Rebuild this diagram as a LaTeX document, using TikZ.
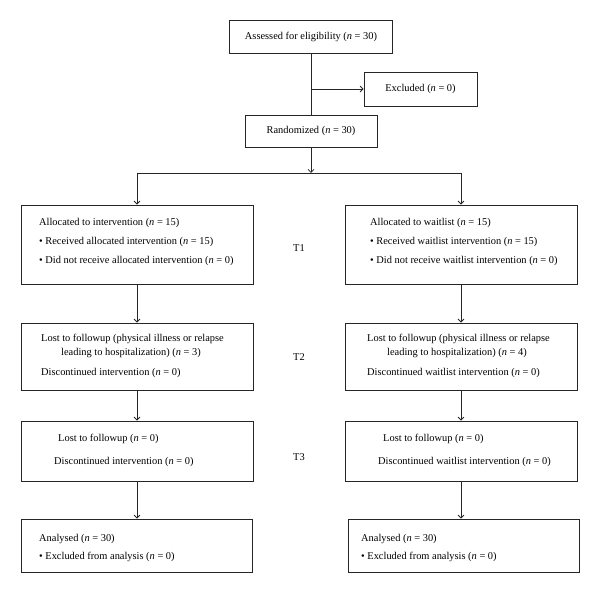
\documentclass[tikz,border=0pt]{standalone}
\usepackage{fontspec}
\setmainfont{Liberation Serif}
\usetikzlibrary{arrows.meta}
\newcommand{\nn}{\textit{n}}
\begin{document}
\begin{tikzpicture}[x=1pt,y=-1pt,
  box/.style={draw=black!85,line width=0.8pt,rectangle,inner sep=0pt},
  txt/.style={inner sep=0pt,anchor=west,font=\fontsize{10.4}{12}\selectfont},
  ctxt/.style={inner sep=0pt,anchor=center,font=\fontsize{10.4}{12}\selectfont},
  conn/.style={draw=black!85,line width=0.8pt},
  arr/.style={conn,-{Straight Barb[length=3pt,width=6pt]}}]
\useasboundingbox (0,0) rectangle (600,593);
% top
\node[box,minimum width=163pt,minimum height=33pt] (assess) at (311,36.5) {};
\node[ctxt] (assesst) at (311,36.5) {Assessed for eligibility (\nn{} = 30)};
\node[box,minimum width=113pt,minimum height=34pt] (excl) at (420.5,89) {};
\node[ctxt] (exclt) at (420.5,89) {Excluded (\nn{} = 0)};
\node[box,minimum width=132pt,minimum height=32pt] (rand) at (311,131) {};
\node[ctxt] (randt) at (311,131) {Randomized (\nn{} = 30)};
\coordinate (br) at (311,89);
\coordinate (split) at (311,173);
\coordinate (lc) at (137,173);
\coordinate (rc) at (461,173);
\draw[conn] (assess.south) -- (rand.north);
\draw[arr] (br) -- (excl.west);
\draw[arr] (rand.south) -- (split);
\draw[conn] (lc) -- (rc);
% row 1
\node[box,minimum width=232pt,minimum height=79pt] (l1) at (137,244.5) {};
\node[box,minimum width=232pt,minimum height=79pt] (r1) at (461,244.5) {};
\draw[arr] (lc) -- (l1.north);
\draw[arr] (rc) -- (r1.north);
\node[txt] (l1a) at (39,223) {Allocated to intervention (\nn{} = 15)};
\node[txt] (l1b) at (39,242) {\textbullet\ Received allocated intervention (\nn{} = 15)};
\node[txt] (l1c) at (39,261) {\textbullet\ Did not receive allocated intervention (\nn{} = 0)};
\node[txt] (r1a) at (370,223) {Allocated to waitlist (\nn{} = 15)};
\node[txt] (r1b) at (370,242) {\textbullet\ Received waitlist intervention (\nn{} = 15)};
\node[txt] (r1c) at (370,261) {\textbullet\ Did not receive waitlist intervention (\nn{} = 0)};
\node[ctxt] (t1) at (299,248) {T1};
% row 2
\node[box,minimum width=232pt,minimum height=67pt] (l2) at (137,356.5) {};
\node[box,minimum width=232pt,minimum height=67pt] (r2) at (461,356.5) {};
\draw[arr] (l1.south) -- (l2.north);
\draw[arr] (r1.south) -- (r2.north);
\node[txt] (l2a) at (41,339) {Lost to followup (physical illness or relapse};
\node[ctxt] (l2b) at (131,353) {leading to hospitalization) (\nn{} = 3)};
\node[txt] (l2c) at (41,373) {Discontinued intervention (\nn{} = 0)};
\node[txt] (r2a) at (367,339) {Lost to followup (physical illness or relapse};
\node[ctxt] (r2b) at (457,353) {leading to hospitalization) (\nn{} = 4)};
\node[txt] (r2c) at (367,373) {Discontinued waitlist intervention (\nn{} = 0)};
\node[ctxt] (t2) at (299,357) {T2};
% row 3
\node[box,minimum width=232pt,minimum height=60pt] (l3) at (137,451) {};
\node[box,minimum width=232pt,minimum height=60pt] (r3) at (461,451) {};
\draw[arr] (l2.south) -- (l3.north);
\draw[arr] (r2.south) -- (r3.north);
\node[txt] (l3a) at (58,439) {Lost to followup (\nn{} = 0)};
\node[txt] (l3b) at (54,462) {Discontinued intervention (\nn{} = 0)};
\node[txt] (r3a) at (383,439) {Lost to followup (\nn{} = 0)};
\node[txt] (r3b) at (378,462) {Discontinued waitlist intervention (\nn{} = 0)};
\node[ctxt] (t3) at (299,457) {T3};
% row 4
\node[box,minimum width=231pt,minimum height=53pt] (l4) at (136.5,545.5) {};
\node[box,minimum width=231pt,minimum height=53pt] (r4) at (463.5,545.5) {};
\draw[arr] (l3.south) -- (l3.south |- l4.north);
\draw[arr] (r3.south) -- (r3.south |- r4.north);
\node[txt] (l4a) at (39,539) {Analysed (\nn{} = 30)};
\node[txt] (l4b) at (39,557) {\textbullet\ Excluded from analysis (\nn{} = 0)};
\node[txt] (r4a) at (361,539) {Analysed (\nn{} = 30)};
\node[txt] (r4b) at (361,557) {\textbullet\ Excluded from analysis (\nn{} = 0)};
\end{tikzpicture}
\end{document}
